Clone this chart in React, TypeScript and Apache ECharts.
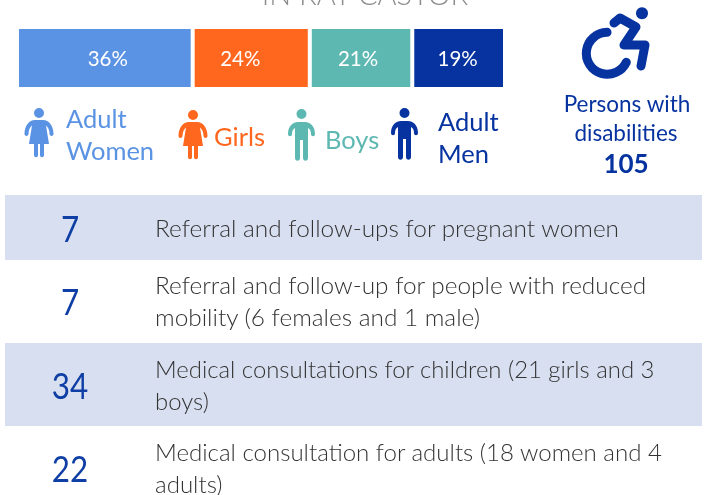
import React, { useEffect, useRef } from "react";
import * as echarts from "echarts";

const groups = ["Adult Women", "Girls", "Boys", "Adult Men"];
const shares = [36, 24, 21, 19];
const groupColors = ["#5B93E4", "#FF671F", "#5EB8B2", "#0633A0"];
const legendLines = [["Adult", "Women"], ["Girls"], ["Boys"], ["Adult", "Men"]];
const counts = ["7", "7", "34", "22"];
const rowTexts = [
  ["Referral and follow-ups for pregnant women"],
  ["Referral and follow-up for people with reduced", "mobility (6 females and 1 male)"],
  ["Medical consultations for children (21 girls and 3", "boys)"],
  ["Medical consultation for adults (18 women and 4", "adults)"],
];
const titleText = "IN RAY CASTOR";
const disabilityLines = ["Persons with", "disabilities"];
const disabilityTotal = "105";

const FONT = "Lato, 'Noto Sans', sans-serif";
const femaleD =
  "M0.5 26 C0.5 18 5 12 11 12 L19 12 C25 12 29.5 18 29.5 26 C29.5 28.5 25.8 28.5 25.5 26 C25.5 22 24 19 22 17.5 L25 36 L20 36 L20 47 C20 50 16 50 16 47 L16 36 L14 36 L14 47 C14 50 10 50 10 47 L10 36 L5 36 L8 17.5 C6 19 4.5 22 4.5 26 C4.2 28.5 0.5 28.5 0.5 26 Z M15 0 A5 5 0 1 1 15 10 A5 5 0 1 1 15 0 Z";
const maleD =
  "M0 25 C0 17 5 13 10 13 L17 13 C22 13 27 17 27 25 C27 28 23 28 23 25 C23 22 22 20 20 19 L20 49 C20 52.5 15 52.5 15 49 L15 31 L12 31 L12 49 C12 52.5 7 52.5 7 49 L7 19 C5 20 4 22 4 25 C4 28 0 28 0 25 Z M13.5 0 A5 5 0 1 1 13.5 10 A5 5 0 1 1 13.5 0 Z";
echarts.graphic.registerShape("personF", echarts.graphic.extendPath(femaleD as any, {}) as any);
echarts.graphic.registerShape("personM", echarts.graphic.extendPath(maleD as any, {}) as any);

export default function App() {
  const ref = useRef<HTMLDivElement>(null);
  useEffect(() => {
    const chart = echarts.init(ref.current!, undefined, { renderer: "svg" });
    const labelOffsets = [[3, 0], [-11, 0], [-3, 0], [-1, 0]];
    const iconSpots = [
      { type: "personF", x: 24, y: 108 },
      { type: "personF", x: 178, y: 110 },
      { type: "personM", x: 288, y: 109 },
      { type: "personM", x: 391, y: 108 },
    ];
    const legendSpots = [
      [[66, 118], [66, 150]],
      [[214, 136]],
      [[325, 139]],
      [[438, 121], [438, 153]],
    ];
    const rowBands = [
      [195, 65],
      [343, 83],
    ];
    const countY = [227, 300, 384, 467];
    const rowLineY = [[227], [284, 316], [368, 400], [451, 483]];
    const rowFontSizes = [24.4, 24.4, 23.9, 24.05];

    const graphic: any[] = [
      { type: "text", x: 365, y: -7, style: { text: titleText, font: `300 29px ${FONT}`, fill: "#8c8c8c", textAlign: "center", textVerticalAlign: "middle" } },
    ];
    groups.forEach((_, i) => {
      graphic.push({ type: iconSpots[i].type, x: iconSpots[i].x, y: iconSpots[i].y, style: { fill: groupColors[i] } });
      legendLines[i].forEach((ln, j) => {
        graphic.push({ type: "text", x: legendSpots[i][j][0], y: legendSpots[i][j][1], style: { text: ln, font: `400 25.5px ${FONT}`, fill: groupColors[i], textVerticalAlign: "middle" } });
      });
    });
    // wheelchair
    graphic.push(
      { type: "circle", shape: { cx: 642, cy: 13.3, r: 6 }, style: { fill: "#0633A0" } },
      { type: "arc", shape: { cx: 607.3, cy: 53.3, r: 21, startAngle: 0.44, endAngle: 4.7, clockwise: true }, style: { stroke: "#0633A0", fill: "none", lineWidth: 9, lineCap: "round" } },
      { type: "polyline", shape: { points: [[614, 23], [620, 18], [636, 27], [624, 45], [645, 45], [641, 66]] }, style: { stroke: "#0633A0", fill: "none", lineWidth: 9, lineCap: "round", lineJoin: "round" } },
      { type: "text", x: 627, y: 103.5, style: { text: disabilityLines[0], font: `400 22.5px ${FONT}`, fill: "#0633A0", textAlign: "center", textVerticalAlign: "middle" } },
      { type: "text", x: 626, y: 132, style: { text: disabilityLines[1], font: `400 22.5px ${FONT}`, fill: "#0633A0", textAlign: "center", textVerticalAlign: "middle" } },
      { type: "text", x: 626, y: 163, style: { text: disabilityTotal, font: `700 26px ${FONT}`, fill: "#0633A0", textAlign: "center", textVerticalAlign: "middle" } },
    );
    rowBands.forEach(([y, h]) => {
      graphic.push({ type: "rect", z: -1, shape: { x: 5, y, width: 697, height: h }, style: { fill: "#D8DFF0" } });
    });
    counts.forEach((c, i) => {
      graphic.push({ type: "text", x: 70, y: countY[i], scaleX: 0.85, style: { text: c, font: `400 37px ${FONT}`, fill: "#0F3FA5", textAlign: "center", textVerticalAlign: "middle" } });
      rowTexts[i].forEach((ln, j) => {
        graphic.push({ type: "text", x: 155, y: rowLineY[i][j], style: { text: ln, font: `300 ${rowFontSizes[i]}px ${FONT}`, fill: "#333333", textVerticalAlign: "middle" } });
      });
    });

    chart.setOption({
      animation: false,
      grid: { left: 17, top: 27, width: 488, height: 62 },
      xAxis: { type: "value", min: 0, max: 100, show: false },
      yAxis: { type: "category", data: ["share"], show: false },
      graphic,
      series: groups.map((name, i) => ({
        name,
        type: "bar",
        stack: "all",
        barWidth: "100%",
        data: [shares[i]],
        itemStyle: { color: groupColors[i], borderColor: "#fff", borderWidth: 2 },
        label: {
          show: true,
          position: "inside",
          offset: labelOffsets[i],
          formatter: "{c}%",
          color: "#fff",
          fontFamily: FONT,
          fontSize: 20.5,
        },
      })),
    });
    return () => chart.dispose();
  }, []);
  return <div ref={ref} style={{ position: "fixed", left: 0, top: 0, width: 707, height: 495 }} />;
}
